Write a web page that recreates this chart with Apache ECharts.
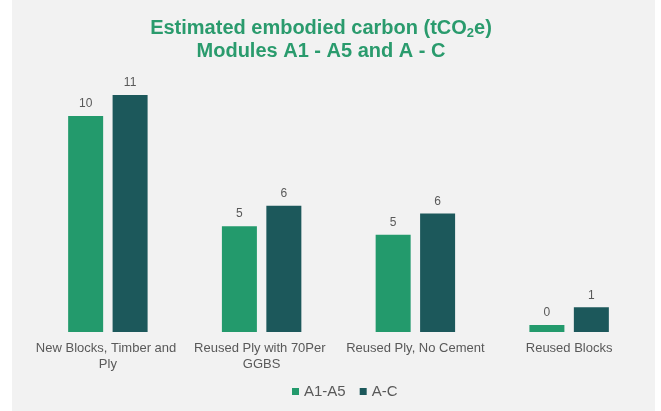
<!DOCTYPE html>
<html>
<head>
<meta charset="utf-8">
<script src="https://cdn.jsdelivr.net/npm/echarts@6/dist/echarts.min.js"></script>
<style>
  html, body { margin: 0; padding: 0; background: #fff; }
  #chart { width: 661px; height: 411px; }
</style>
</head>
<body>
<div id="chart"></div>
<script>
const categories = ['New Blocks, Timber and Ply', 'Reused Ply with 70Per GGBS', 'Reused Ply, No Cement', 'Reused Blocks']
const seriesNames = ['A1-A5', 'A-C']
const a1a5 = [10.2, 5.0, 4.6, 0.33]
const aToC = [11.2, 5.96, 5.6, 1.17]

const chart = echarts.init(document.getElementById('chart'))

const labelStyle = {
  show: true,
  position: 'top',
  distance: 6,
  color: '#595959',
  fontSize: 12,
  fontFamily: 'Liberation Sans',
  formatter: p => Math.round(p.value)
}

chart.setOption({
  backgroundColor: '#fff',
  animation: false,
  graphic: [{
    type: 'rect',
    z: -10,
    silent: true,
    shape: { x: 12, y: 0, width: 643, height: 411 },
    style: { fill: '#f2f2f2' }
  }],
  title: {
    left: 316,
    top: 12,
    textAlign: 'center',
    text: '{a|Estimated embodied carbon (tCO}{s|2}{a|e)}\n{a|Modules A1 - A5 and A - C}',
    textStyle: {
      rich: {
        a: { fontSize: 20, fontWeight: 'bold', color: '#2a9b6d', fontFamily: 'Liberation Sans', lineHeight: 23 },
        s: { fontSize: 13, fontWeight: 'bold', color: '#2a9b6d', fontFamily: 'Liberation Sans', lineHeight: 10, verticalAlign: 'bottom' }
      }
    }
  },
  legend: {
    data: seriesNames,
    bottom: 7,
    left: 287,
    icon: 'rect',
    itemWidth: 7,
    itemHeight: 7,
    itemGap: 14,
    textStyle: { color: '#595959', fontSize: 15, fontFamily: 'Liberation Sans' }
  },
  grid: { left: 31, right: 15, top: 78, bottom: 79 },
  xAxis: {
    type: 'category',
    data: categories,
    axisLine: { show: false },
    axisTick: { show: false },
    axisLabel: {
      color: '#595959',
      fontSize: 13,
      fontFamily: 'Liberation Sans',
      margin: 8,
      lineHeight: 16,
      width: 150,
      overflow: 'break',
      interval: 0
    }
  },
  yAxis: {
    type: 'value',
    min: 0,
    max: 12,
    show: false,
    splitLine: { show: false }
  },
  series: [
    {
      name: seriesNames[0],
      type: 'bar',
      data: a1a5,
      barWidth: 35,
      barGap: '27%',
      itemStyle: { color: '#239a6c' },
      label: labelStyle
    },
    {
      name: seriesNames[1],
      type: 'bar',
      data: aToC,
      barWidth: 35,
      barGap: '27%',
      itemStyle: { color: '#1c585b' },
      label: labelStyle
    }
  ]
})
</script>
</body>
</html>
